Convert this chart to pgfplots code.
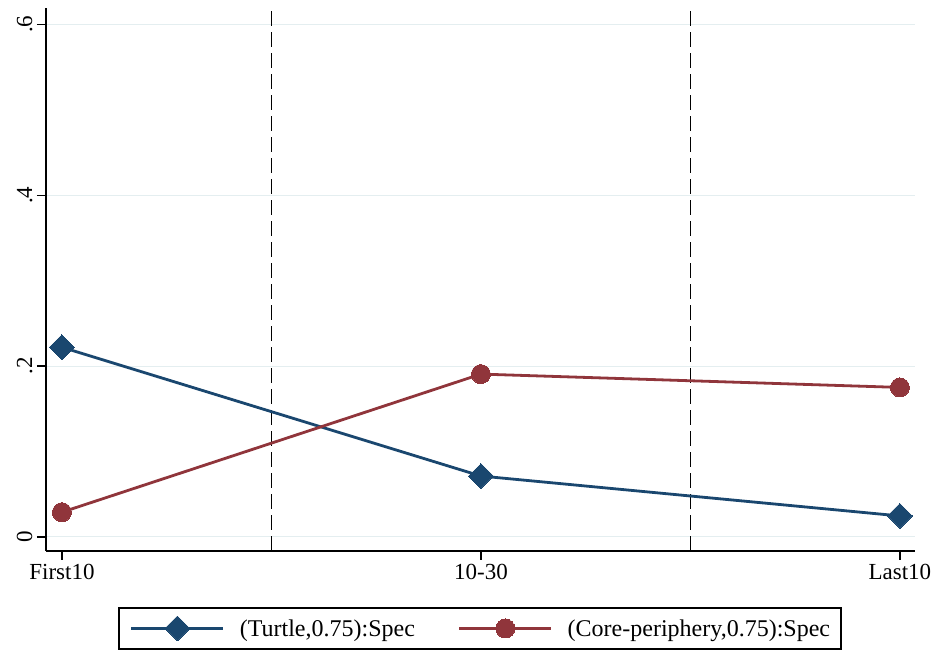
\documentclass[border=0pt]{standalone}
\usepackage{pgfplots}
\pgfplotsset{compat=1.18}
\usepackage{fontspec}
\setmainfont{Liberation Serif}
\definecolor{snavy}{RGB}{26,71,111}
\definecolor{smaroon}{RGB}{144,53,59}
\definecolor{sgrid}{RGB}{228,238,240}
\begin{document}
\begin{tikzpicture}
\begin{axis}[
  scale only axis,
  width=869pt, height=543pt,
  xmin=-0.038, xmax=2.036,
  ymin=-0.0164, ymax=0.619,
  axis lines*=left,
  axis line style={line width=1.2pt, -},
  xtick={0,1,2},
  xticklabels={First10,10-30,Last10},
  ytick={0,0.2,0.4,0.6},
  yticklabels={0,.2,.4,.6},
  yticklabel style={rotate=90, anchor=south, font=\fontsize{23}{27}\selectfont, yshift=1pt},
  xticklabel style={font=\fontsize{23}{27}\selectfont, yshift=-1pt},
  tick style={line width=1.2pt, black},
  tick align=outside,
  major tick length=9pt,
  ymajorgrids,
  grid style={sgrid, line width=1pt},
  legend style={at={(0.4995,-0.1427)}, anchor=center, draw=black, line width=1.2pt,
    font=\fontsize{24}{28}\selectfont, legend columns=2,
    nodes={inner xsep=0pt, inner ysep=3.5pt},
    /tikz/every odd column/.append style={column sep=15pt},
    /tikz/every even column/.append style={column sep=43pt},
    inner xsep=11pt, inner ysep=8pt},
  legend cell align=left,
  legend image code/.code={
    \draw[#1, mark repeat=2, mark phase=2] plot coordinates {(0pt,0pt) (46pt,0pt) (92pt,0pt)};
  },
  clip=false,
]
\addplot[draw=black, line width=1.3pt, dash pattern=on 15pt off 6pt, forget plot]
  coordinates {(0.5,-0.0164) (0.5,0.619)};
\addplot[draw=black, line width=1.3pt, dash pattern=on 15pt off 6pt, forget plot]
  coordinates {(1.5,-0.0164) (1.5,0.619)};
\addplot[snavy, line width=2.8pt, mark=square*, mark size=8.8pt,
  mark options={rotate=45, solid, fill=snavy, draw=snavy, line width=0pt}]
  coordinates {(0,0.222) (1,0.0713) (2,0.0246)};
\addlegendentry{(Turtle,0.75):Spec}
\addplot[smaroon, line width=2.8pt, mark=*, mark size=9.5pt,
  mark options={solid, fill=smaroon, draw=smaroon, line width=0pt}]
  coordinates {(0,0.029) (1,0.1906) (2,0.175)};
\addlegendentry{(Core-periphery,0.75):Spec\hspace{20pt}}
\end{axis}
\pgfresetboundingbox
\path (-46pt,-101pt) rectangle (891pt,551pt);
\end{tikzpicture}
\end{document}
